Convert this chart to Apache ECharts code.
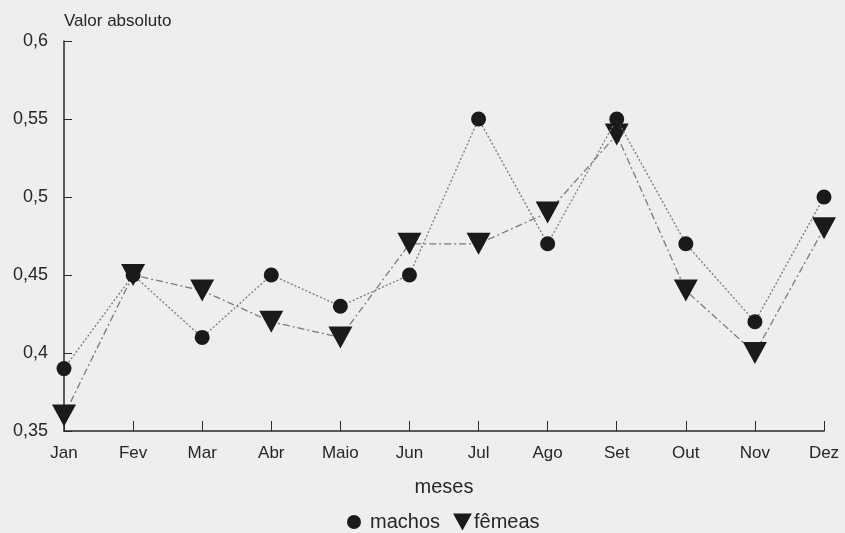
<!DOCTYPE html>
<html>
<head>
<meta charset="utf-8">
<script src="https://cdn.jsdelivr.net/npm/echarts@6/dist/echarts.min.js"></script>
<style>
html,body{margin:0;padding:0;background:#efeeed;}
#c{width:845px;height:533px;}
</style>
</head>
<body>
<div id="c"></div>
<script>
const months = ['Jan','Fev','Mar','Abr','Maio','Jun','Jul','Ago','Set','Out','Nov','Dez'];
const machos = [0.39,0.45,0.41,0.45,0.43,0.45,0.55,0.47,0.55,0.47,0.42,0.50];
const femeas = [0.36,0.45,0.44,0.42,0.41,0.47,0.47,0.49,0.54,0.44,0.40,0.48];
const yTicks = [0.35,0.4,0.45,0.5,0.55,0.6];

const tri = 'path://M0,0 L10,0 L5,9 Z';
const legendCircle = 'path://M0,0 M21,17 M3,8.5 A7,7 0 1 1 17,8.5 A7,7 0 1 1 3,8.5 Z';
const chart = echarts.init(document.getElementById('c'));
const txt = {color:'#262626', fontFamily:'Liberation Sans, Arial, sans-serif', fontSize:17};
chart.setOption({
  backgroundColor:'#efeeed',
  animation:false,
  grid:{left:64,right:21,top:41,bottom:102,containLabel:false},
  legend:{
    bottom:1, left:344, itemGap:13, itemWidth:21, itemHeight:17, padding:0,
    textStyle:Object.assign({},txt,{fontSize:20}),
    data:[
      {name:'machos',icon:legendCircle},
      {name:'fêmeas',icon:tri,textStyle:{padding:[0,0,0,-4]}}
    ]
  },
  xAxis:{
    type:'category', data:months, boundaryGap:false,
    name:'meses', nameLocation:'middle', nameGap:46,
    nameTextStyle:Object.assign({},txt,{fontSize:20}),
    axisLine:{lineStyle:{color:'#2a2a2a',width:1.5}},
    axisTick:{inside:true,length:10,lineStyle:{color:'#2a2a2a'}},
    axisLabel:Object.assign({},txt,{margin:14}),
    splitLine:{show:false}
  },
  yAxis:{
    type:'value', min:0.35, max:0.6, interval:0.05,
    name:'Valor absoluto', nameLocation:'end', nameGap:11,
    nameTextStyle:Object.assign({},txt,{align:'left',padding:[0,0,0,0]}),
    axisLine:{show:true,lineStyle:{color:'#2a2a2a',width:1.5}},
    axisTick:{show:true,inside:true,length:8,lineStyle:{color:'#2a2a2a'}},
    axisLabel:Object.assign({},txt,{fontSize:18,margin:16,formatter:function(v){
      const t = yTicks.find(x=>Math.abs(x-v)<1e-6);
      return String(t!==undefined?t:+v.toFixed(2)).replace('.',',');
    }}),
    splitLine:{show:false}
  },
  series:[
    {name:'machos', type:'line', data:machos, symbol:'circle', symbolSize:15,
     itemStyle:{color:'#1a1a1a'},
     lineStyle:{color:'#7a7a7a',width:1.3,type:[2,2]}, z:3},
    {name:'fêmeas', type:'line', data:femeas, symbol:tri, symbolSize:[24,22],
     itemStyle:{color:'#1a1a1a'},
     lineStyle:{color:'#7a7a7a',width:1.3,type:[7,3,2,3]}, z:2}
  ]
});
</script>
</body>
</html>
